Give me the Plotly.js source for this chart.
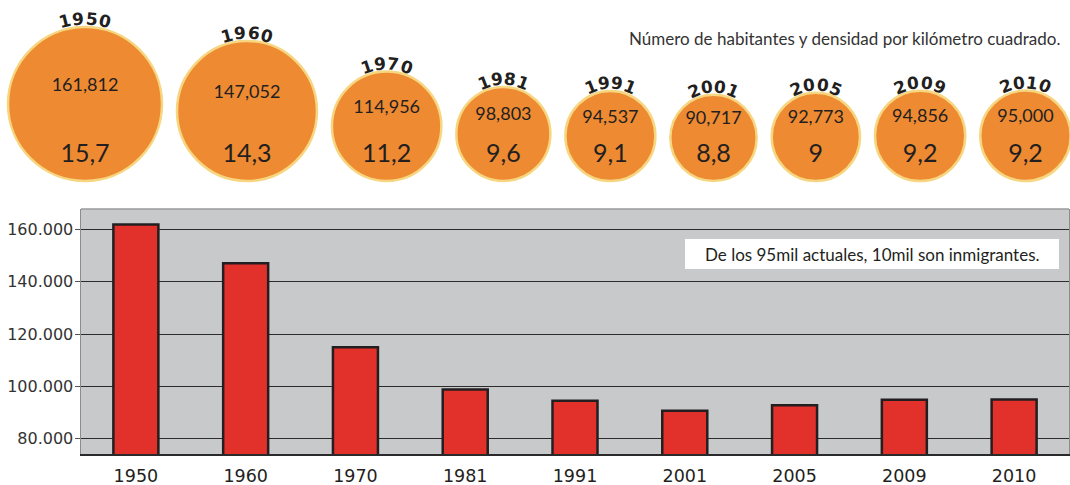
<!DOCTYPE html>
<html>
<head>
<meta charset="utf-8">
<script src="https://cdn.plot.ly/plotly-3.0.1.min.js"></script>
<style>html,body{margin:0;padding:0;background:#fff;}#chart{width:1070px;height:485px;}</style>
</head>
<body>
<div id="chart"></div>
<script>
// ---- data ----
const years = ['1950','1960','1970','1981','1991','2001','2005','2009','2010'];
const population = [161812, 147052, 114956, 98803, 94537, 90717, 92773, 94856, 95000];
const populationLabels = ['161,812','147,052','114,956','98,803','94,537','90,717','92,773','94,856','95,000'];
const densityLabels = ['15,7','14,3','11,2','9,6','9,1','8,8','9','9,2','9,2'];
const yTickVals = [80000, 100000, 120000, 140000, 160000];
const yTickText = ['80.000','100.000','120.000','140.000','160.000'];
const subtitle = 'Número de habitantes y densidad por kilómetro cuadrado.';
const note = 'De los 95mil actuales, 10mil son inmigrantes.';

// ---- layout of the bubble row (pixel axes) ----
const W = 1070, H = 485;
const pxPerPerson = 154 / 161812;
const gap = 15, startX = 8, bottomY = 181;
const diam = population.map(p => p * pxPerPerson);
const cx = []; let cur = startX;
diam.forEach((d, i) => { cx.push(cur + d / 2); cur += d + gap; });
const cy = diam.map(d => bottomY - d / 2);

const bubbleFont = 'Lato, "Noto Sans", sans-serif';

const traces = [
  {
    type: 'bar', x: years, y: population, xaxis: 'x', yaxis: 'y',
    marker: {color: '#e2302b', line: {color: '#231f20', width: 2.5}},
    hoverinfo: 'skip'
  },
  {
    type: 'scatter', mode: 'markers', x: cx, y: cy, xaxis: 'x2', yaxis: 'y2',
    cliponaxis: false,
    marker: {size: diam, sizemode: 'diameter', opacity: 1, color: '#ee8a31', line: {color: '#f6d680', width: 2.5}},
    hoverinfo: 'skip'
  },
  {
    type: 'scatter', mode: 'text', x: cx, y: cy.map(v => v - 18), text: populationLabels,
    xaxis: 'x2', yaxis: 'y2', cliponaxis: false,
    textfont: {family: bubbleFont, size: 18, color: '#231f20'}, hoverinfo: 'skip'
  },
  {
    type: 'scatter', mode: 'text', x: cx, y: cx.map(() => bottomY - 25), text: densityLabels,
    xaxis: 'x2', yaxis: 'y2', cliponaxis: false,
    textfont: {family: bubbleFont, size: 25, color: '#231f20'}, hoverinfo: 'skip'
  }
];

// curved year labels above circles
const annotations = [];
const pitch = 13.5;
years.forEach((yr, i) => {
  const R = diam[i] / 2 + 8;
  const chars = yr.split('');
  chars.forEach((ch, j) => {
    const th = (j - (chars.length - 1) / 2) * pitch / R;
    annotations.push({
      xref: 'x2', yref: 'y2', x: cx[i] + R * Math.sin(th), y: cy[i] - R * Math.cos(th),
      text: '<b>' + ch + '</b>', showarrow: false, textangle: th * 180 / Math.PI,
      font: {family: '"DejaVu Sans", sans-serif', size: 17, color: '#231f20'},
      xanchor: 'center', yanchor: 'middle'
    });
  });
});
annotations.push({
  xref: 'x2', yref: 'y2', x: 1062, y: 38, text: subtitle, showarrow: false,
  xanchor: 'right', yanchor: 'middle',
  font: {family: bubbleFont, size: 17, color: '#333'}
});
annotations.push({
  xref: 'x2', yref: 'y2', x: 872, y: 254, text: note, showarrow: false,
  xanchor: 'center', yanchor: 'middle',
  font: {family: bubbleFont, size: 17, color: '#231f20'}
});

const shapes = [
  {type: 'rect', xref: 'x domain', yref: 'y domain', x0: 0, x1: 1, y0: 0, y1: 1,
   fillcolor: '#c8c9cb', line: {width: 0}, layer: 'below'},
  {type: 'line', xref: 'x domain', yref: 'y domain', x0: 0, x1: 1, y0: 1, y1: 1,
   line: {color: '#9a9a9a', width: 1.5}, layer: 'above'},
  {type: 'rect', xref: 'x2', yref: 'y2', x0: 685, x1: 1059, y0: 239, y1: 269,
   fillcolor: '#ffffff', line: {width: 0}, layer: 'above'}
];

const layout = {
  width: W, height: H,
  margin: {l: 0, r: 0, t: 0, b: 0},
  paper_bgcolor: '#ffffff', plot_bgcolor: 'rgba(0,0,0,0)',
  showlegend: false,
  bargap: 0.59,
  xaxis: {
    type: 'category', domain: [81 / W, 1069 / W], range: [-0.5, 8.5], anchor: 'y',
    showline: true, linecolor: '#2a2a2a', linewidth: 2, showgrid: false,
    ticks: '', ticklabelstandoff: 5, automargin: false, fixedrange: true,
    tickfont: {family: '"DejaVu Sans", sans-serif', size: 17.5, color: '#231f20'}
  },
  yaxis: {
    domain: [(H - 454) / H, (H - 209) / H], range: [74150, 167760], anchor: 'x',
    tickvals: yTickVals, ticktext: yTickText,
    showgrid: true, gridcolor: '#2b2b2b', gridwidth: 1, zeroline: false,
    showline: true, linecolor: '#8c8c8c', linewidth: 1.5, mirror: true,
    ticks: 'outside', ticklen: 5, tickcolor: '#555', tickwidth: 1,
    ticklabelstandoff: -2,
    automargin: false, fixedrange: true,
    tickfont: {family: '"DejaVu Sans", sans-serif', size: 16, color: '#333'}
  },
  xaxis2: {domain: [0, 1], range: [0, W], anchor: 'y2', visible: false, fixedrange: true},
  yaxis2: {domain: [0, 1], range: [H, 0], anchor: 'x2', visible: false, fixedrange: true},
  shapes: shapes,
  annotations: annotations
};

Plotly.newPlot('chart', traces, layout, {displayModeBar: false, staticPlot: true});
</script>
</body>
</html>
